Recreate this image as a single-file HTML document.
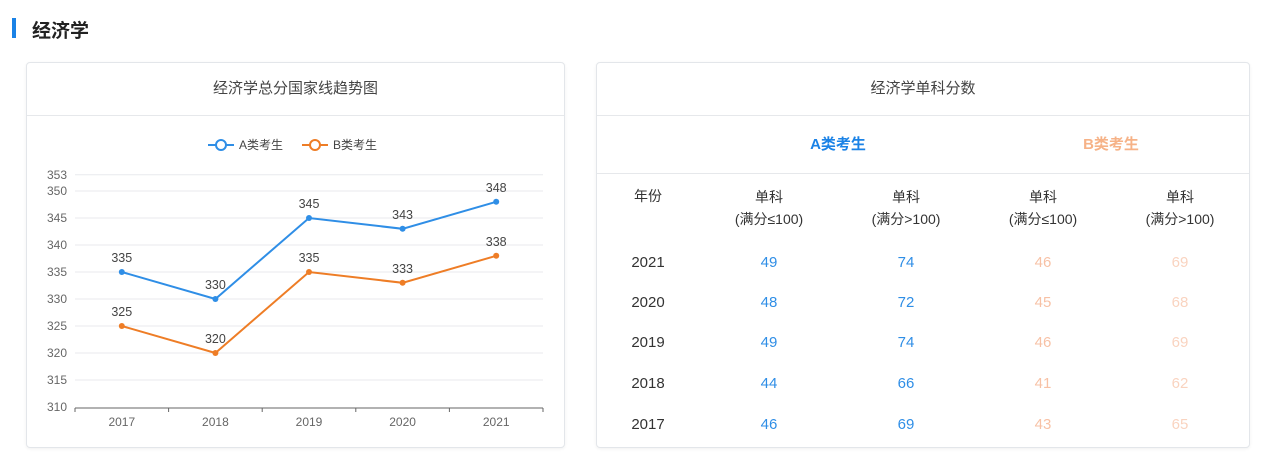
<!DOCTYPE html>
<html><head><meta charset="utf-8"><style>
body{margin:0;width:1280px;height:468px;background:#fff;font-family:"Liberation Sans","Noto Sans CJK SC",sans-serif;position:relative;overflow:hidden}
.abs{position:absolute}
.card{position:absolute;border:1px solid #e3e6ea;border-radius:4px;background:#fff;box-shadow:0 1px 3px rgba(0,0,0,0.06)}
.hd{position:absolute;left:0;right:0;top:0;height:52px;border-bottom:1px solid #e6e8eb;text-align:center;line-height:52px;font-size:15px;color:#444}
.c{position:absolute;transform:translateX(-50%);text-align:center;white-space:nowrap}
</style></head><body>
<div class="abs" style="left:12px;top:18px;width:4px;height:20px;background:#1a82e6"></div>
<div class="abs" style="left:32px;top:16px;font-size:19px;font-weight:600;color:#222">经济学</div>

<div class="card" style="left:26px;top:62px;width:537px;height:384px">
<div class="hd">经济学总分国家线趋势图</div>
</div>
<svg class="abs" style="left:0;top:0" width="580" height="468" id="chart"></svg>

<div class="card" style="left:596px;top:62px;width:652px;height:384px">
<div class="hd">经济学单科分数</div>
<div class="abs" style="left:0;right:0;top:110px;border-top:1px solid #e6e8eb"></div>
</div>
<div id="tbl"></div>

<script>
const years=["2017","2018","2019","2020","2021"];
const seriesA=[335,330,345,343,348];
const seriesB=[325,320,335,333,338];
const yTicks=[310,315,320,325,330,335,340,345,350,353];
const svg=document.getElementById('chart');
const NS='http://www.w3.org/2000/svg';
function y(v){return 407-(v-310)*5.4;}
function x(i){return 75+93.6*(i+0.5);}
function mk(t,a){const e=document.createElementNS(NS,t);for(const k in a)e.setAttribute(k,a[k]);svg.appendChild(e);return e;}
yTicks.forEach(v=>{
 if(v>310){const g=mk('line',{x1:75,x2:543,y1:y(v),y2:y(v),stroke:'#e8eaee'});
 
 }
 const t=mk('text',{x:67,y:y(v)+4,'text-anchor':'end','font-size':12,fill:'#666'});t.textContent=v;
 
 
});
const ax=mk('line',{x1:75,x2:543,y1:408,y2:408,stroke:'#666'});


for(let i=0;i<=5;i++)mk('line',{x1:75+93.6*i,x2:75+93.6*i,y1:408,y2:412,stroke:'#666'});
years.forEach((yr,i)=>{const t=mk('text',{x:x(i),y:426,'text-anchor':'middle','font-size':12,fill:'#666'});t.textContent=yr;
 
 });
function series(d,col,name){
 const p=mk('polyline',{points:d.map((v,i)=>x(i)+','+y(v)).join(' '),fill:'none',stroke:col,'stroke-width':2});
 
 
 d.forEach((v,i)=>{const c=mk('circle',{cx:x(i),cy:y(v),r:3,fill:col});
  
  
  const t=mk('text',{x:x(i),y:y(v)-10,'text-anchor':'middle','font-size':12.5,fill:'#444'});t.textContent=v;
  
  });
}
series(seriesA,'#2f8ee6','series-a');
series(seriesB,'#ee7d26','series-b');
[['A类考生','#2f8ee6',208,'legend-a'],['B类考生','#ee7d26',302,'legend-b']].forEach(l=>{
 mk('line',{x1:l[2],x2:l[2]+26,y1:145,y2:145,stroke:l[1],'stroke-width':2});
 mk('circle',{cx:l[2]+13,cy:145,r:5,fill:'#fff',stroke:l[1],'stroke-width':2});
 const t=mk('text',{x:l[2]+31,y:149,'font-size':12,fill:'#444'});t.textContent=l[0];
 
 
});
const rowYears=["2021","2020","2019","2018","2017"];
const aLow=[49,48,49,44,46],aHigh=[74,72,74,66,69],bLow=[46,45,46,41,43],bHigh=[69,68,69,62,65];
const tbl=document.getElementById('tbl');
function cell(txt,l,t,style,name){const d=document.createElement('div');d.className='c';d.style.left=l+'px';d.style.top=t+'px';d.style.cssText+=style;d.innerHTML=txt;
 
 
 tbl.appendChild(d);}
cell('A类考生',838,133,'font-size:15px;font-weight:bold;color:#1a82e6','group-a-header');
cell('B类考生',1111,133,'font-size:15px;font-weight:bold;color:#f5a06a;opacity:.8','group-b-header');
cell('年份',648,186,'font-size:14px;color:#333','year-header');
const cx=[769,906,1043,1180];
['单科<br>(满分≤100)','单科<br>(满分>100)','单科<br>(满分≤100)','单科<br>(满分>100)'].forEach((t,i)=>cell(t,cx[i],186,'font-size:14px;color:#333;line-height:22px','subject-header'));
const ry=[254,294,334,375,416];
rowYears.forEach((yr,r)=>{
 cell(yr,648,ry[r],'font-size:15px;color:#333','year-cell');
 cell(aLow[r],cx[0],ry[r],'font-size:15px;color:#2f8ee6','a-low-cell');
 cell(aHigh[r],cx[1],ry[r],'font-size:15px;color:#2f8ee6','a-high-cell');
 cell(bLow[r],cx[2],ry[r],'font-size:15px;color:#f5a880;opacity:.7','b-low-cell');
 cell(bHigh[r],cx[3],ry[r],'font-size:15px;color:#f5a880;opacity:.5','b-high-cell');
});
</script>
</body></html>
